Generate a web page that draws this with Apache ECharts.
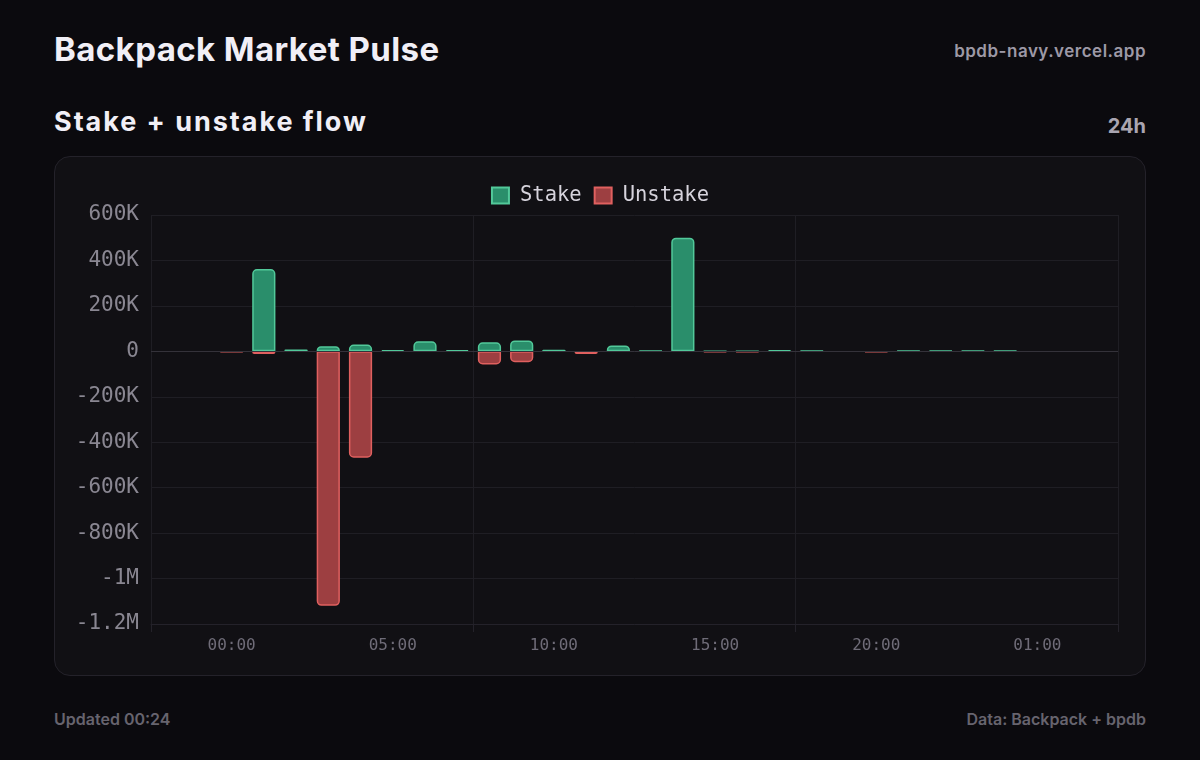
<!DOCTYPE html>
<html lang="en">
<head>
<meta charset="UTF-8">
<title>Backpack Market Pulse</title>
<script src="https://cdn.jsdelivr.net/npm/echarts@6/dist/echarts.min.js"></script>
<style>
  html, body { margin: 0; padding: 0; background: #0b0a0e; }
  body { width: 1200px; height: 760px; position: relative; overflow: hidden;
         font-family: Inter, "Noto Sans", sans-serif; }
  .t { position: absolute; line-height: 1; white-space: nowrap; }
  #title { left: 54px; top: 33px; font-size: 33px; font-weight: 700; color: #f1eff6; letter-spacing: 0.4px; }
  #site { right: 54px; top: 43px; font-size: 17px; font-weight: 600; color: #9d99a6; letter-spacing: 0.5px; }
  #sub { left: 54px; top: 108px; font-size: 27px; font-weight: 700; color: #f1eff6; letter-spacing: 1.95px; }
  #range { right: 54px; top: 116px; font-size: 20px; font-weight: 700; color: #a9a5b1; }
  #card { position: absolute; left: 54px; top: 156px; width: 1092px; height: 520px;
          box-sizing: border-box; border: 1px solid #24222a; border-radius: 16px; background: #111014; }
  #main { position: absolute; left: 54px; top: 156px; width: 1092px; height: 520px; }
  #updated { left: 54px; top: 711px; font-size: 16px; font-weight: 600; color: #67646e; }
  #source { right: 54px; top: 711px; font-size: 16px; font-weight: 600; color: #67646e; }
</style>
</head>
<body>
<div class="t" id="title">Backpack Market Pulse</div>
<div class="t" id="site">bpdb-navy.vercel.app</div>
<div class="t" id="sub">Stake + unstake flow</div>
<div class="t" id="range">24h</div>
<div id="card"></div>
<div id="main"></div>
<div class="t" id="updated">Updated 00:24</div>
<div class="t" id="source">Data: Backpack + bpdb</div>
<script>
    // hourly buckets (22:00 the day before through 03:00)
    var hours = ['22:00', '23:00', '00:00', '01:00', '02:00', '03:00', '04:00', '05:00', '06:00', '07:00',
                 '08:00', '09:00', '10:00', '11:00', '12:00', '13:00', '14:00', '15:00', '16:00', '17:00',
                 '18:00', '19:00', '20:00', '21:00', '22:00', '23:00', '00:00', '01:00', '02:00', '03:00'];
    var stake = [null, null, null, 362000, 8000, 22000, 30000, 6000, 44000, 6000,
                 40000, 48000, 7000, null, 26000, 2000, 500000, 1000, 1000, 5000,
                 2000, null, null, 2000, 3000, 2000, 2000, null, null, null];
    var unstake = [null, null, -3000, -12000, null, -1120000, -468000, null, null, null,
                   -58000, -48000, null, -12000, null, null, null, -3000, -3000, null,
                   null, null, -3000, null, null, null, null, null, null, null];
    var yMin = -1200000, yMax = 600000, yStep = 200000;

    var mono = '"DejaVu Sans Mono", "Liberation Mono", monospace';

    function fmt(v) {
        if (v === 0) return '0';
        var a = Math.abs(v), s = v < 0 ? '-' : '';
        if (a >= 1000000) return s + (a / 1000000) + 'M';
        return s + (a / 1000) + 'K';
    }

    var chart = echarts.init(document.getElementById('main'));
    chart.setOption({
        backgroundColor: 'transparent',
        animation: false,
        legend: {
            data: ['Stake', 'Unstake'],
            top: 24,
            left: 'center',
            icon: 'rect',
            itemWidth: 17,
            itemHeight: 16,
            itemGap: 12,
            textStyle: { color: '#d6d3dc', fontFamily: mono, fontSize: 20.5, padding: [0, 0, 0, 6] }
        },
        grid: { left: 97, right: 28, top: 59, bottom: 52, containLabel: false },
        xAxis: {
            type: 'category',
            data: hours,
            boundaryGap: true,
            axisLine: { onZero: false, lineStyle: { color: '#24222a' } },
            axisTick: { show: true, interval: 9, length: 8, lineStyle: { color: '#24222a' } },
            splitLine: { show: true, interval: 9, lineStyle: { color: '#1f1e24' } },
            axisLabel: {
                interval: function (i) { return i % 5 === 2; },
                color: '#6f6c78', fontFamily: mono, fontSize: 16, margin: 14
            }
        },
        yAxis: {
            type: 'value',
            min: yMin, max: yMax, interval: yStep,
            axisLine: { show: false },
            axisTick: { show: false },
            splitLine: { lineStyle: { color: '#1f1e24' } },
            axisLabel: { color: '#8a8792', fontFamily: mono, fontSize: 21, margin: 12, formatter: fmt }
        },
        series: [{
            name: 'Stake',
            type: 'bar',
            stack: 'flow',
            barWidth: '72%',
            data: stake,
            itemStyle: { color: '#2a8e6b', borderColor: '#52c99a', borderWidth: 1.5, borderRadius: [4, 4, 0, 0] },
            markLine: {
                silent: true, symbol: 'none', label: { show: false },
                lineStyle: { color: '#34323a', type: 'solid', width: 1 },
                data: [{ yAxis: 0 }]
            }
        }, {
            name: 'Unstake',
            type: 'bar',
            stack: 'flow',
            barWidth: '72%',
            data: unstake,
            itemStyle: { color: '#9d3f41', borderColor: '#e0605f', borderWidth: 1.5, borderRadius: [0, 0, 4, 4] }
        }]
    });
</script>
</body>
</html>
